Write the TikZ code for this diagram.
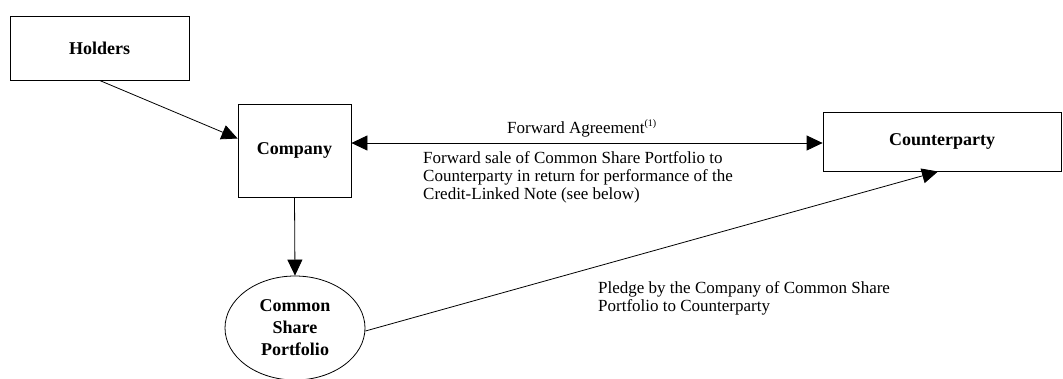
\documentclass[tikz,border=0pt]{standalone}
\usepackage{fontspec}
\setmainfont{Liberation Serif}
\usetikzlibrary{arrows.meta,shapes.geometric}
\begin{document}
\begin{tikzpicture}[x=1pt,y=-1pt,
  boxnode/.style={draw, line width=0.8pt, inner sep=0pt, font=\fontsize{18}{22}\selectfont\bfseries},
  lbl/.style={inner sep=0pt, font=\fontsize{17}{18}\selectfont, align=left},
  arr/.style={line width=0.8pt, -{Triangle[length=16pt,width=15pt]}},
  darr/.style={line width=0.8pt, {Triangle[length=16pt,width=15pt]}-{Triangle[length=16pt,width=15pt]}}]
\useasboundingbox[fill=white] (0,0) rectangle (1063,378);
\node[boxnode, minimum width=179pt, minimum height=64pt] (hold) at (99.5,48) {Holders};
\node[boxnode, minimum width=113pt, minimum height=93pt] (co) at (294.5,150.5) {Company};
\node[boxnode, minimum width=238pt, minimum height=59pt] (cp) at (942,141.5) {Counterparty};
\node[boxnode, ellipse, minimum width=140pt, minimum height=104pt, align=center] (csp) at (295,328) {Common\\Share\\Portfolio};
\coordinate (fa) at (0,143);
\coordinate (tip) at (938,171.5);
\draw[arr] (hold.south) -- ([yshift=12pt]co.west);
\draw[darr] (co.east |- fa) -- (cp.west |- fa);
\draw[arr] (co.south) -- (csp.north);
\draw[arr] ([yshift=-3pt]csp.east) -- (tip);
\node[lbl, anchor=base west] (fatxt) at (507,133) {Forward Agreement\textsuperscript{\fontsize{10}{10}\selectfont(1)}};
\node[lbl, anchor=north west] (fstxt) at (423,151) {Forward sale of Common Share Portfolio to\\Counterparty in return for performance of the\\Credit-Linked Note (see below)};
\node[lbl, anchor=north west] (pltxt) at (598,281) {Pledge by the Company of Common Share\\Portfolio to Counterparty};
\end{tikzpicture}
\end{document}
